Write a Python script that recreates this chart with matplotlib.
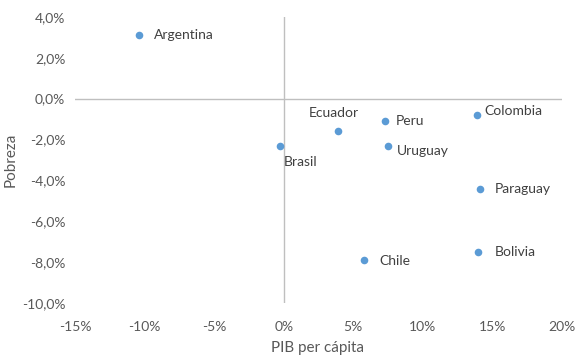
import matplotlib.pyplot as plt
from matplotlib.ticker import FuncFormatter, MultipleLocator

# Variación (%) de PIB per cápita vs pobreza
paises = ["Argentina", "Brasil", "Ecuador", "Peru", "Uruguay",
          "Colombia", "Paraguay", "Bolivia", "Chile"]
pib = [-10.4, -0.3, 3.9, 7.3, 7.5, 13.9, 14.1, 14.0, 5.8]
pobreza = [3.1, -2.3, -1.6, -1.1, -2.3, -0.8, -4.4, -7.5, -7.9]

# label placement (pixels from the point) and alignment
offsets = {
    "Argentina": (15, 0, "left", "center"),
    "Brasil": (4, -16, "left", "center"),
    "Ecuador": (-4, 18, "center", "center"),
    "Peru": (10, 0, "left", "center"),
    "Uruguay": (9, -5, "left", "center"),
    "Colombia": (7, 4, "left", "center"),
    "Paraguay": (15, 0, "left", "center"),
    "Bolivia": (16, 0, "left", "center"),
    "Chile": (15, -1, "left", "center"),
}

TXT = "#595959"
LINE = "#bfbfbf"
plt.rcParams['font.family'] = ['Lato', 'DejaVu Sans']

fig = plt.figure(figsize=(5.86, 3.59), dpi=100)
ax = fig.add_axes([0.128, 0.156, 0.831, 0.797])

ax.scatter(pib, pobreza, s=30, color="#5B9BD5", zorder=3, linewidths=0)
for name, x, y in zip(paises, pib, pobreza):
    dx, dy, ha, va = offsets[name]
    ax.annotate(name, (x, y), xytext=(dx, dy), textcoords="offset pixels",
                ha=ha, va=va, fontsize=10, color="#404040")

ax.axhline(0, color=LINE, lw=1, zorder=1)
ax.axvline(0, color=LINE, lw=1, zorder=1)

ax.set_xlim(-15, 20)
ax.set_ylim(-10, 4)
ax.xaxis.set_major_locator(MultipleLocator(5))
ax.yaxis.set_major_locator(MultipleLocator(2))
ax.xaxis.set_major_formatter(FuncFormatter(lambda v, p: f"{v:.0f}%"))
ax.yaxis.set_major_formatter(
    FuncFormatter(lambda v, p: f"{v:.1f}%".replace(".", ",")))

for s in ax.spines.values():
    s.set_visible(False)
ax.tick_params(length=0, labelsize=10, colors=TXT)
ax.tick_params(axis="y", pad=7)
ax.tick_params(axis="x", pad=13)

ax.set_xlabel("PIB per cápita", fontsize=11, color=TXT, va="center")
ax.set_ylabel("Pobreza", fontsize=11, color=TXT, va="center")
ax.xaxis.set_label_coords(0.497, -0.157)
ax.yaxis.set_label_coords(-0.133, 0.5)

fig.savefig("out.png", dpi=100)
